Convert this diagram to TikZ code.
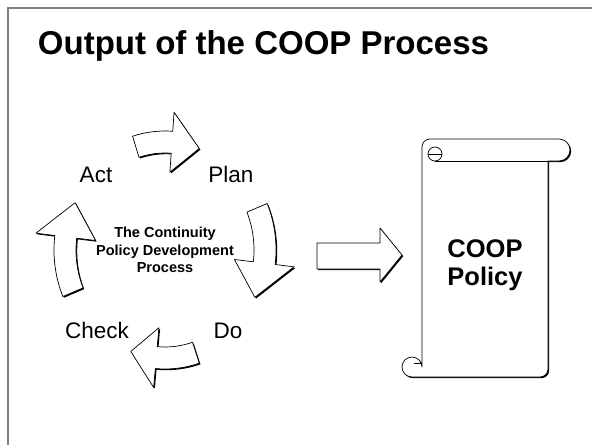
\documentclass[tikz,border=0pt]{standalone}
\usepackage{fontspec}
\setmainfont{Liberation Sans}

% one curved block arrow of the cycle: style, tail angle, head base angle, tip angle
\newcommand{\cyclearrow}[4]{%
  \path[#1] (#2:111 and 119) arc[start angle=#2, end angle=#3, x radius=111, y radius=119]
    -- (#3:130 and 138) -- (#4:100 and 108) -- (#3:70 and 78) -- (#3:89 and 97)
    arc[start angle=#3, end angle=#2, x radius=89, y radius=97] -- cycle;}

\begin{document}
\begin{tikzpicture}[x=1pt, y=1pt,
  shapeline/.style={draw, fill=white, line width=0.7pt, line join=round},
  shadowfill/.style={fill=black},
  steplabel/.style={anchor=base, font=\fontsize{22.5}{27}\selectfont}]
  \useasboundingbox (0,0) rectangle (592,-445);
  \draw[gray, line width=2pt] (592,-8) -- (8,-8) -- (8,-445);

  \node[anchor=base, font=\bfseries\fontsize{33}{38}\selectfont] (title) at (263.5,-54) {Output of the COOP Process};

  % the cycle
  \begin{scope}[shift={(166.2,-251.2)}]
    \cyclearrow{shadowfill}{107}{86}{70}
    \cyclearrow{shadowfill}{23}{-7}{-26}
    \cyclearrow{shadowfill}{-72}{-95}{-110}
    \cyclearrow{shadowfill}{203}{173}{154}
  \end{scope}
  \begin{scope}[shift={(165,-250)}]
    \cyclearrow{shapeline}{107}{86}{70}
    \cyclearrow{shapeline}{23}{-7}{-26}
    \cyclearrow{shapeline}{-72}{-95}{-110}
    \cyclearrow{shapeline}{203}{173}{154}
  \end{scope}

  \node[steplabel] (act) at (96,-182) {Act};
  \node[steplabel] (plan) at (231,-182) {Plan};
  \node[steplabel] (do) at (228,-338) {Do};
  \node[steplabel] (check) at (97,-338) {Check};
  \node[align=center, font=\bfseries\fontsize{14.5}{17.5}\selectfont] (cycle) at (165,-250) {The Continuity\\Policy Development\\Process};

  % arrow to the output
  \fill[shadowfill, shift={(1.2,-1.2)}] (317,-243) -- (380,-243) -- (380,-228) -- (402,-255) -- (380,-282) -- (380,-269) -- (317,-269) -- cycle;
  \path[shapeline] (317,-243) -- (380,-243) -- (380,-228) -- (402,-255) -- (380,-282) -- (380,-269) -- (317,-269) -- cycle;

  % the scroll
  \fill[shadowfill, shift={(1.2,-1.2)}] (422,-367) -- (422,-147) arc[start angle=180, end angle=90, radius=8]
    -- (559,-139) arc[start angle=90, end angle=-90, radius=11] -- (548,-161) -- (548,-369)
    arc[start angle=0, end angle=-90, radius=8] -- (412,-377) arc[start angle=-90, end angle=-360, radius=10] -- cycle;
  \path[shapeline] (422,-367) -- (422,-147) arc[start angle=180, end angle=90, radius=8]
    -- (559,-139) arc[start angle=90, end angle=-90, radius=11] -- (548,-161) -- (548,-369)
    arc[start angle=0, end angle=-90, radius=8] -- (412,-377) arc[start angle=-90, end angle=-360, radius=10] -- cycle;
  \draw[line width=0.7pt] (435,-161) -- (548,-161);
  \draw[line width=0.7pt] (435,-154) circle[radius=7];
  \draw[line width=0.7pt] (428,-154) -- (442,-154);
  \draw[line width=0.7pt] (414,-363) -- (422,-363);

  \node[align=center, font=\bfseries\fontsize{25.5}{28}\selectfont] (policy) at (485,-265) {COOP\\Policy};
\end{tikzpicture}
\end{document}
